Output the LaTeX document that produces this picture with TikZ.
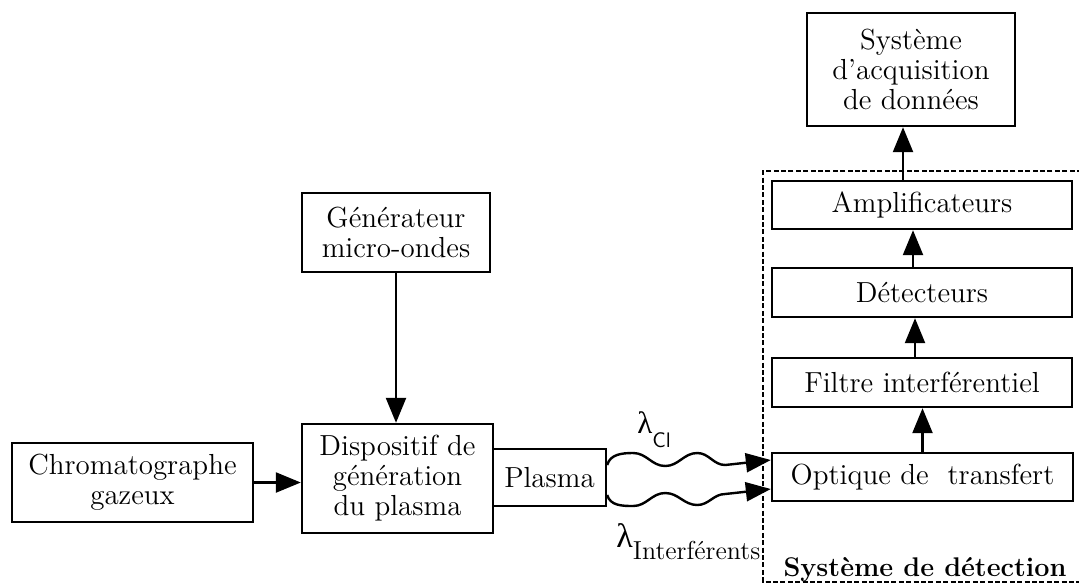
\documentclass[tikz,border=0pt]{standalone}
\usepackage{fontspec}
\newfontfamily\grkfont{Liberation Serif}
\usetikzlibrary{arrows.meta}
\tikzset{
  box/.style={draw, line width=1.2pt, inner sep=0pt, align=center,
    font=\fontsize{14.5}{15}\selectfont},
  arr/.style={line width=1.2pt, -{Triangle[length=12.5pt,width=10pt]}},
  wave/.style={line width=1.2pt, -{Triangle[length=12.5pt,width=9.5pt]}},
  frame/.style={line width=0.9pt, dash pattern=on 2.5pt off 1.2pt},
}
\begin{document}
\begin{tikzpicture}[x=0.5pt, y=-0.5pt]
\useasboundingbox (0,0) rectangle (1079,584);

% left part
\node[box, minimum width=120.5pt, minimum height=39.5pt] (chrom) at (132.5,482.5) {Chromatographe\\gazeux};
\node[box, minimum width=95.5pt, minimum height=54.5pt] (disp) at (397.5,478.5) {Dispositif de\\génération\\du plasma};
\node[box, minimum width=56.5pt, minimum height=28.5pt] (plasma) at (549.5,477.5) {Plasma};
\node[box, minimum width=94pt, minimum height=39.5pt] (gen) at (396,232.5) {Générateur\\micro-ondes};

% right column
\node[box, minimum width=150.5pt, minimum height=24pt] (opt) at (922.5,477) {Optique de\ \ transfert};
\node[box, minimum width=150pt, minimum height=24.5pt] (filt) at (922,382.5) {Filtre interférentiel};
\node[box, minimum width=150pt, minimum height=24.5pt] (det) at (922,292.5) {Détecteurs};
\node[box, minimum width=150pt, minimum height=24pt] (amp) at (922,205) {Amplificateurs};
\node[box, minimum width=104pt, minimum height=56.5pt] (acq) at (911,69.5) {Système\\d'acquisition\\de données};

% detection frame
\coordinate (fa) at (1082,171);
\coordinate (fb) at (763,171);
\coordinate (fc) at (763,582);
\coordinate (fd) at (1082,582);
\draw[frame] (fa) -- (fb) -- (fc) -- (fd);
\node[anchor=base, inner sep=0pt, font=\bfseries\fontsize{13.5}{14}\selectfont] (sdd) at (925,576) {Système de détection};

% arrows
\draw[arr] (chrom.east) -- (chrom.east -| disp.west);
\draw[arr] (gen.south) -- (gen.south |- disp.north);
\draw[arr] (opt.north) -- (opt.north |- filt.south);
\draw[arr] ([xshift=-3.5pt]filt.north) -- ([xshift=-3.5pt]filt.north |- det.south);
\draw[arr] ([xshift=-4.5pt]det.north) -- ([xshift=-4.5pt]det.north |- amp.south);
\draw[arr] ([xshift=-9.5pt]amp.north) -- ([xshift=-9.5pt]amp.north |- acq.south);

% waves
\draw[wave] ([yshift=6.25pt]plasma.east) to[out=75,in=180] ++(26,-12)
  to[out=0,in=180] ++(32,13) to[out=0,in=180] ++(32,-13)
  to[out=0,in=180] ++(28,12) -- ([yshift=8.5pt]opt.west);
\draw[wave] ([yshift=-8.75pt]plasma.east) to[out=-75,in=180] ++(26,11)
  to[out=0,in=180] ++(32,-13) to[out=0,in=180] ++(32,12)
  to[out=0,in=180] ++(28,-11) -- ([yshift=-6pt]opt.west);

% lambda labels
\node[anchor=base west, inner sep=0pt] (lcl) at (637,433)
  {\fontsize{15.5}{15}\grkfont λ\raisebox{-7pt}{\fontsize{10.5}{11}\selectfont\sffamily Cl}};
\node[anchor=base west, inner sep=0pt] (lint) at (616,547)
  {\fontsize{17}{17}\grkfont λ\raisebox{-6pt}{\fontsize{13}{12}\selectfont\rmfamily Interférents}};
\end{tikzpicture}
\end{document}
